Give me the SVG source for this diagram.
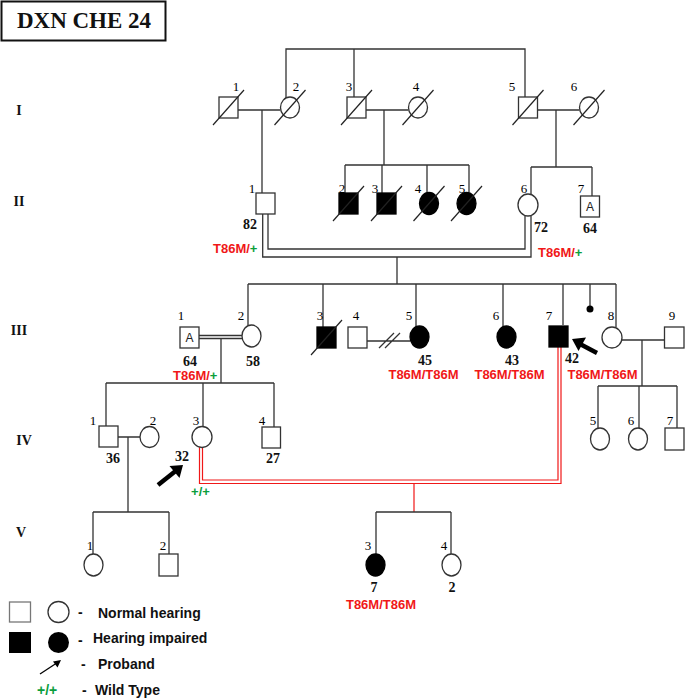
<svg xmlns="http://www.w3.org/2000/svg" width="685" height="700" viewBox="0 0 685 700">
<style>
.ln{fill:none;stroke:#333;stroke-width:1.3}
.red{fill:none;stroke:#f01818;stroke-width:1.2}
.sym{fill:#fff;stroke:#333;stroke-width:1.3}
.aff{fill:#000;stroke:#000;stroke-width:1.3}
.dec{stroke:#222;stroke-width:1.2}
.num{font-family:"Liberation Serif",serif;font-size:13px;fill:#000;text-anchor:middle}
.age{font-family:"Liberation Serif",serif;font-size:14px;font-weight:bold;fill:#111;text-anchor:middle}
.gen{font-family:"Liberation Serif",serif;font-size:14px;font-weight:bold;fill:#111;text-anchor:middle}
.gt{font-family:"Liberation Sans",Arial,sans-serif;font-size:13px;font-weight:bold;fill:#f01818}
.lg{font-family:"Liberation Sans",Arial,sans-serif;font-size:14px;font-weight:bold;fill:#111}
.wt,.lg.wt,.gt.wt{fill:#0a9e3c}
.A{font-family:"Liberation Sans",Arial,sans-serif;font-size:12px;fill:#222;text-anchor:middle}
.arr{fill:#000}
</style>
<rect width="685" height="700" fill="#fff"/>
<g id="title">
<rect x="1.5" y="1.5" width="164" height="39" fill="#fff" stroke="#111" stroke-width="2"/>
<text x="84" y="28" font-family="Liberation Serif,serif" font-size="23" font-weight="bold" text-anchor="middle" fill="#111">DXN CHE 24</text>
</g>
<g id="generations">
<text class="gen" x="19" y="115">I</text>
<text class="gen" x="19" y="206">II</text>
<text class="gen" x="19" y="335">III</text>
<text class="gen" x="24" y="445">IV</text>
<text class="gen" x="21" y="537">V</text>
</g>
<g id="connectors">
<path class="ln" d="M286,98 V49 H525 V98 M354,49 V98"/>
<path class="ln" d="M238,110 H280.5 M262,110 V193"/>
<path class="ln" d="M366,110 H408.5 M384,110 V165 M345,165 H469 M345,165 V193 M382,165 V193 M427,165 V192.5 M469,165 V192.5"/>
<path class="ln" d="M537.5,110 H579.5 M556,110 V167 M531,167 H592 M531,167 V194.5 M592,167 V196"/>
<path class="ln" d="M268,214 V249 H525 V216 M262.7,214 V257 H531 V215.5"/>
<path class="ln" d="M397,257 V284 M248,284 H616 M248,284 V325 M323,284 V327 M416,284 V326 M503,284 V326 M563,284 V325 M590,284 V306 M616,284 V327"/>
<path class="ln" d="M199,335.5 H242 M199,338.5 H242 M221,338.5 V383 M106,383 H274 M106,383 V426 M203,383 V427 M274,383 V427"/>
<path class="ln" d="M367,341 H410 M379,348 L394,333 M385,348 L400,333"/>
<path class="ln" d="M622,340 H664 M642,340 V386 M598,386 H677 M598,386 V428 M639,386 V428 M677,386 V428"/>
<path class="ln" d="M118,437 H140 M128,437 V512 M93,512 H169 M93,512 V554 M169,512 V554"/>
<path class="red" d="M202.5,447 V480 H558 V347 M199.5,447 V483.5 H561 V347 M414,483.5 V512"/>
<path class="ln" d="M376,512 H451 M376,512 V554 M451,512 V554"/>
</g>
<g id="I-1"><rect class="sym" x="219" y="97" width="19" height="21"/><line class="dec" x1="213" y1="125" x2="244" y2="90"/><text class="num" x="236" y="91">1</text></g>
<g id="I-2"><ellipse class="sym" cx="290" cy="107.5" rx="9.5" ry="10.5"/><line class="dec" x1="274.5" y1="125" x2="305.5" y2="90"/><text class="num" x="296" y="91">2</text></g>
<g id="I-3"><rect class="sym" x="347" y="97" width="19" height="21"/><line class="dec" x1="341" y1="125" x2="372" y2="90"/><text class="num" x="349" y="91">3</text></g>
<g id="I-4"><ellipse class="sym" cx="418" cy="107.5" rx="9.5" ry="10.5"/><line class="dec" x1="402.5" y1="125" x2="433.5" y2="90"/><text class="num" x="416" y="91">4</text></g>
<g id="I-5"><rect class="sym" x="518.5" y="97" width="19" height="21"/><line class="dec" x1="512.5" y1="125" x2="543.5" y2="90"/><text class="num" x="512" y="91">5</text></g>
<g id="I-6"><ellipse class="sym" cx="589" cy="107.5" rx="9.5" ry="10.5"/><line class="dec" x1="573.5" y1="125" x2="604.5" y2="90"/><text class="num" x="574" y="91">6</text></g>
<g id="II-1"><rect class="sym" x="256" y="193" width="19" height="21"/><text class="num" x="252" y="193">1</text><text class="age" x="250" y="229">82</text><text class="gt" x="213" y="253">T86M/<tspan class="wt">+</tspan></text></g>
<g id="II-2"><rect class="aff" x="339" y="193" width="19" height="21"/><line class="dec" x1="333" y1="221" x2="364" y2="186"/><text class="num" x="342" y="193">2</text></g>
<g id="II-3"><rect class="aff" x="377" y="193" width="19" height="21"/><line class="dec" x1="371" y1="221" x2="402" y2="186"/><text class="num" x="375" y="193">3</text></g>
<g id="II-4"><ellipse class="aff" cx="429" cy="203.5" rx="9.5" ry="11"/><line class="dec" x1="413.5" y1="221" x2="444.5" y2="186"/><text class="num" x="418" y="193">4</text></g>
<g id="II-5"><ellipse class="aff" cx="466.5" cy="203.5" rx="9.5" ry="11"/><line class="dec" x1="451" y1="221" x2="482" y2="186"/><text class="num" x="462" y="193">5</text></g>
<g id="II-6"><ellipse class="sym" cx="528" cy="205" rx="10" ry="11"/><text class="num" x="524" y="193">6</text><text class="age" x="541" y="232">72</text><text class="gt" x="538" y="257">T86M/<tspan class="wt">+</tspan></text></g>
<g id="II-7"><rect class="sym" x="580.5" y="196" width="19" height="21"/><text class="A" x="590" y="211">A</text><text class="num" x="581" y="193">7</text><text class="age" x="590" y="233">64</text></g>
<g id="III-1"><rect class="sym" x="180" y="327" width="19" height="21"/><text class="A" x="189.5" y="342">A</text><text class="num" x="181" y="320">1</text><text class="age" x="190" y="365.5">64</text><text class="gt" x="173" y="380">T86M/<tspan class="wt">+</tspan></text></g>
<g id="III-2"><ellipse class="sym" cx="251.5" cy="336" rx="9.5" ry="11"/><text class="num" x="241" y="320">2</text><text class="age" x="253" y="365.5">58</text></g>
<g id="III-3"><rect class="aff" x="317" y="327" width="19" height="21"/><line class="dec" x1="311" y1="355" x2="342" y2="320"/><text class="num" x="320" y="320">3</text></g>
<g id="III-4"><rect class="sym" x="348" y="327" width="19" height="21"/><text class="num" x="356" y="320">4</text></g>
<g id="III-5"><ellipse class="aff" cx="419.5" cy="337" rx="9.5" ry="11"/><text class="num" x="409" y="320">5</text><text class="age" x="425" y="364.5">45</text><text class="gt" x="423.5" y="378.5" text-anchor="middle">T86M/T86M</text></g>
<g id="III-6"><ellipse class="aff" cx="506.5" cy="337" rx="9.5" ry="11"/><text class="num" x="496" y="320">6</text><text class="age" x="512" y="364.5">43</text><text class="gt" x="509.5" y="378.5" text-anchor="middle">T86M/T86M</text></g>
<g id="III-dot"><circle cx="590" cy="309" r="3.5" fill="#000"/></g>
<g id="III-7"><rect class="aff" x="549" y="326" width="19" height="21"/><text class="num" x="549" y="320">7</text><text class="age" x="572" y="363">42</text><line x1="597" y1="353" x2="580" y2="344" stroke="#000" stroke-width="4.5"/><polygon class="arr" points="572,339 586,337.5 578.5,351"/></g>
<g id="III-8"><ellipse class="sym" cx="612" cy="337.5" rx="10" ry="10.5"/><text class="num" x="611" y="320">8</text><text class="gt" x="602.5" y="379" text-anchor="middle">T86M/T86M</text></g>
<g id="III-9"><rect class="sym" x="664.5" y="327" width="19.5" height="21"/><text class="num" x="672" y="320">9</text></g>
<g id="IV-1"><rect class="sym" x="99" y="426" width="19" height="21"/><text class="num" x="93" y="425">1</text><text class="age" x="113" y="463">36</text></g>
<g id="IV-2"><ellipse class="sym" cx="149.5" cy="437" rx="9.5" ry="10.5"/><text class="num" x="153" y="425">2</text></g>
<g id="IV-3"><ellipse class="sym" cx="202" cy="437" rx="10" ry="10.5"/><text class="num" x="196" y="425">3</text><text class="age" x="182" y="461">32</text><line x1="158" y1="485" x2="175" y2="471.5" stroke="#000" stroke-width="4.5"/><polygon class="arr" points="183,465 179.5,478 169.5,466"/><text class="gt wt" x="200.5" y="496" text-anchor="middle" font-size="12">+/+</text></g>
<g id="IV-4"><rect class="sym" x="262" y="427" width="18.5" height="21"/><text class="num" x="262" y="425">4</text><text class="age" x="273" y="463">27</text></g>
<g id="IV-5"><ellipse class="sym" cx="600" cy="439" rx="9.5" ry="11"/><text class="num" x="593" y="425">5</text></g>
<g id="IV-6"><ellipse class="sym" cx="638" cy="439" rx="9.5" ry="11"/><text class="num" x="631" y="425">6</text></g>
<g id="IV-7"><rect class="sym" x="665" y="428" width="19" height="22"/><text class="num" x="670" y="425">7</text></g>
<g id="V-1"><ellipse class="sym" cx="93.5" cy="565" rx="9.5" ry="11"/><text class="num" x="90" y="550">1</text></g>
<g id="V-2"><rect class="sym" x="159" y="554" width="19" height="22"/><text class="num" x="163" y="550">2</text></g>
<g id="V-3"><ellipse class="aff" cx="375.5" cy="565" rx="9.5" ry="11"/><text class="num" x="368" y="550">3</text><text class="age" x="374" y="592">7</text><text class="gt" x="381" y="609" text-anchor="middle" font-size="14.5">T86M/T86M</text></g>
<g id="V-4"><ellipse class="sym" cx="451.5" cy="565" rx="9.5" ry="11"/><text class="num" x="444" y="550">4</text><text class="age" x="452" y="592">2</text></g>
<g id="legend">
<rect x="9.5" y="602" width="21" height="20" fill="#fff" stroke="#777" stroke-width="1.3"/>
<circle cx="58.5" cy="612" r="10.5" class="sym"/>
<text class="lg" x="78" y="617">-</text><text class="lg" x="98" y="618">Normal hearing</text>
<rect x="9" y="632" width="22" height="21" fill="#000"/>
<circle cx="58.5" cy="642.5" r="10.5" fill="#000"/>
<text class="lg" x="78" y="645">-</text><text class="lg" x="93" y="643">Hearing impaired</text>
<line x1="40" y1="674" x2="56" y2="663.5" stroke="#000" stroke-width="1.3"/><polygon class="arr" points="61,660 57.5,667.5 53,661.5"/>
<text class="lg" x="81" y="669">-</text><text class="lg" x="98" y="669">Proband</text>
<text class="lg wt" x="37" y="695" font-size="13">+/+</text>
<text class="lg" x="82" y="695">-</text><text class="lg" x="95" y="695">Wild Type</text>
</g>
</svg>
